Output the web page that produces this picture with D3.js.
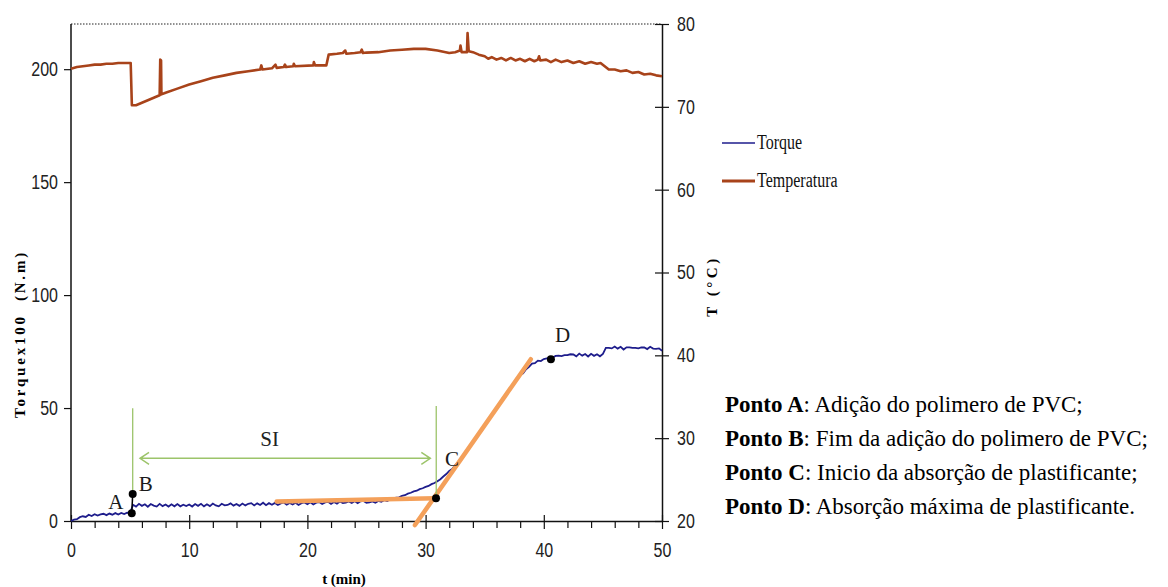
<!DOCTYPE html>
<html>
<head>
<meta charset="utf-8">
<script src="https://cdn.jsdelivr.net/npm/d3@7"></script>
<style>
  body { margin: 0; background: #fff; }
  .tick text { font-family: "Liberation Sans", Arial, sans-serif; font-size: 20px; fill: #222; }
</style>
</head>
<body>
<div id="chart"></div>
<script>
// torque (N.m x100), one reading every 0.25 min from t = 0 to 50
const torqueStep = 0.25;
const torqueValues = [
  0.0, 0.6, 0.8, 1.7, 2.1, 1.8, 2.8, 2.2, 3.0, 2.4, 2.9, 3.2, 2.6, 3.3, 2.8, 3.5, 2.9, 3.6, 3.1, 3.7,
  3.5, 7.2, 6.4, 7.6, 6.7, 7.4, 6.3, 7.5, 6.8, 6.4, 7.6, 6.6, 7.3, 6.4, 7.4, 6.5, 7.5, 6.5, 7.2, 6.6,
  7.3, 6.4, 7.5, 6.7, 7.6, 6.5, 7.4, 6.6, 7.7, 6.9, 6.5, 7.6, 6.9, 7.1, 7.8, 6.8, 7.5, 6.7, 7.7, 6.9,
  7.6, 7.9, 6.9, 7.8, 7.1, 8.1, 7.0, 7.9, 7.2, 8.0, 7.1, 7.8, 8.2, 7.2, 8.0, 7.3, 8.1, 7.1, 7.9, 8.2,
  7.4, 8.3, 7.3, 8.1, 8.4, 7.5, 8.2, 8.5, 7.6, 8.4, 7.7, 8.6, 7.9, 8.1, 8.7, 8.0, 8.8, 7.9, 8.7, 8.9,
  8.0, 8.2, 8.7, 8.1, 8.9, 8.5, 9.2, 8.8, 9.5, 9.7, 10.3, 10.5, 11.1, 11.4, 12.1, 12.5, 13.1, 13.4, 14.1, 14.5,
  15.1, 15.5, 16.3, 16.8, 17.6, 18.5, 19.7, 20.8, 22.2, 23.0, 24.7, 25.9, 27.7, 29.1, 31.2, 32.8, 35.2, 36.5, 38.7, 40.0,
  42.2, 44.0, 46.2, 48.0, 50.2, 51.9, 54.2, 55.6, 57.7, 59.2, 61.2, 62.7, 64.7, 65.4, 67.2, 68.2, 69.7, 69.9, 71.0, 70.8,
  71.7, 72.0, 72.0, 72.4, 73.1, 73.2, 73.0, 73.4, 73.4, 73.8, 73.7, 72.9, 74.1, 73.2, 73.9, 72.8, 74.0, 73.1, 73.8, 72.9,
  74.0, 76.6, 76.6, 76.4, 77.2, 76.3, 77.1, 75.9, 76.9, 76.9, 76.6, 76.6, 76.4, 76.8, 76.8, 76.1, 77.1, 76.3, 76.2, 76.4,
  75.4
];

// temperature (°C), [t (min), T]
const tempPoints = [
  [0, 74.6], [0.5, 74.8], [1, 74.9], [1.5, 75.0], [2, 75.1], [2.5, 75.1], [3, 75.2], [3.5, 75.2],
  [4, 75.3], [4.5, 75.3], [5.05, 75.3], [5.15, 70.2], [5.5, 70.2], [6, 70.5], [6.5, 70.8], [7, 71.1],
  [7.5, 71.4], [7.55, 75.7], [7.62, 75.6], [7.65, 71.5], [8, 71.7], [9, 72.2], [10, 72.7], [11, 73.1],
  [12, 73.5], [13, 73.8], [14, 74.1], [15, 74.3], [16, 74.5], [16.1, 75.0], [16.2, 74.5], [17, 74.65],
  [17.3, 75.1], [17.4, 74.7], [18, 74.8], [18.1, 75.1], [18.2, 74.8], [18.8, 74.9], [18.85, 75.2], [18.95, 74.9],
  [20.5, 75.0], [20.55, 75.4], [20.65, 75.0], [21.6, 75.0], [21.8, 76.3], [22.5, 76.4], [23, 76.5], [23.2, 76.8],
  [23.3, 76.4], [24, 76.5], [24.5, 76.6], [24.6, 76.9], [24.7, 76.5], [25, 76.55], [26, 76.6], [27, 76.8],
  [28, 76.9], [29, 77.0], [30, 77.0], [31, 76.8], [32, 76.5], [32.5, 76.6], [32.9, 76.8], [32.95, 77.4],
  [33.05, 76.6], [33.5, 76.6], [33.55, 78.9], [33.65, 76.7], [34, 76.6], [34.5, 76.3], [35, 76.1], [35.3, 75.8],
  [35.6, 76.0], [36, 75.7], [36.4, 75.9], [36.8, 75.6], [37.2, 75.9], [37.6, 75.6], [38, 75.8], [38.4, 75.5],
  [38.8, 75.8], [39.2, 75.5], [39.5, 75.7], [39.6, 76.1], [39.7, 75.6], [40.2, 75.7], [40.6, 75.4], [41, 75.7],
  [41.5, 75.4], [42, 75.6], [42.5, 75.3], [43, 75.5], [43.5, 75.2], [44, 75.4], [44.5, 75.2], [44.8, 75.3],
  [45.5, 74.5], [46, 74.5], [46.5, 74.3], [47, 74.4], [47.5, 74.1], [48, 74.2], [48.5, 73.9], [49, 74.0],
  [49.5, 73.8], [50, 73.7]
];

// annotation points [t, torque]
const points = [
  {name: "A", t: 5.14, v: 3.4, dx: -16, dy: -4},
  {name: "B", t: 5.22, v: 11.9, dx: 6, dy: -3},
  {name: "C", t: 30.88, v: 10.1, dx: 9, dy: -32},
  {name: "D", t: 40.6, v: 71.6, dx: 4, dy: -17}
];
const siMarks = [{t: 5.22, from: 11.9, to: 49.9}, {t: 30.9, from: 10.1, to: 50.9}];
const siArrow = {t0: 5.84, t1: 30.4, v: 27.75};
const tangents = [
  [[17.4, 8.6], [30.8, 10.1]],
  [[29.1, -1.8], [38.9, 71.6]]
];

const xTicks = [0, 10, 20, 30, 40, 50];
const xMinor = [2, 4, 6, 8, 12, 14, 16, 18, 22, 24, 26, 28, 32, 34, 36, 38, 42, 44, 46, 48];
const leftTicks = [0, 50, 100, 150, 200];
const rightTicks = [20, 30, 40, 50, 60, 70, 80];

const notes = [
  ["Ponto A", ": Adição do polimero de PVC;"],
  ["Ponto B", ": Fim da adição do polimero de PVC;"],
  ["Ponto C", ": Inicio da absorção de plastificante;"],
  ["Ponto D", ": Absorção máxima de plastificante."]
];

const colors = {torque: "#1e1d8c", temp: "#a8431a", green: "#9cc46a", orange: "#f4a05a"};
const serif = '"Liberation Serif", "Times New Roman", serif';
const squeeze = 0.8; // tick labels in the original are a narrow sans

const W = 1168, H = 587;
const margin = {top: 24, right: 506, bottom: 66, left: 71};
const width = W - margin.left - margin.right;
const height = H - margin.top - margin.bottom;

const svg = d3.select("#chart").append("svg")
  .attr("width", W).attr("height", H);

const g = svg.append("g")
  .attr("transform", "translate(" + margin.left + "," + margin.top + ")");

const x = d3.scaleLinear().domain([0, 50]).range([0, width]);
const yL = d3.scaleLinear().domain([0, 220]).range([height, 0]);
const yR = d3.scaleLinear().domain([20, 80]).range([height, 0]);

// dotted top border
g.append("line")
  .attr("x1", 0).attr("x2", width).attr("y1", 0).attr("y2", 0)
  .attr("stroke", "#222").attr("stroke-width", 1).attr("stroke-dasharray", "1.5,1.5");

// axes
const xAxis = g.append("g")
  .attr("transform", "translate(0," + height + ")")
  .call(d3.axisBottom(x).tickValues(xTicks).tickSize(8).tickPadding(14).tickSizeOuter(0));
xAxis.selectAll(".tick line").attr("y1", -6);
xAxis.selectAll(".tick text").attr("dy", "0.71em");
g.append("g")
  .attr("transform", "translate(0," + height + ")")
  .call(d3.axisBottom(x).tickValues(xMinor).tickSize(7).tickFormat("").tickSizeOuter(0))
  .select(".domain").remove();

const leftAxis = g.append("g")
  .call(d3.axisLeft(yL).tickValues(leftTicks).tickSize(7).tickPadding(6).tickSizeOuter(0));
leftAxis.select(".domain").attr("d", "M0," + height + "V0");

const rightAxis = g.append("g")
  .attr("transform", "translate(" + width + ",0)")
  .call(d3.axisRight(yR).tickValues(rightTicks).tickSize(7).tickPadding(8).tickSizeOuter(0));
rightAxis.selectAll(".tick line").attr("x1", -7);

// narrow the tick labels horizontally
g.selectAll(".tick text").each(function() {
  const t = d3.select(this);
  const tx = +t.attr("x") || 0;
  t.attr("x", tx / squeeze).attr("transform", "scale(" + squeeze + ",1)");
});

g.selectAll(".domain").attr("stroke", "#111").attr("stroke-width", 1.5);
g.selectAll(".tick line").attr("stroke", "#111").attr("stroke-width", 1.2);

// temperature line
const tempLine = d3.line().x(d => x(d[0])).y(d => yR(d[1]));
g.append("path")
  .datum(tempPoints)
  .attr("fill", "none")
  .attr("stroke", colors.temp)
  .attr("stroke-width", 2.6)
  .attr("stroke-linejoin", "round")
  .attr("d", tempLine);

// torque line
const torqueLine = d3.line().x((d, i) => x(i * torqueStep)).y(d => yL(d));
g.append("path")
  .datum(torqueValues)
  .attr("fill", "none")
  .attr("stroke", colors.torque)
  .attr("stroke-width", 1.8)
  .attr("d", torqueLine);

// tangents
g.selectAll(".tangent")
  .data(tangents)
  .enter().append("line")
  .attr("class", "tangent")
  .attr("x1", d => x(d[0][0])).attr("y1", d => yL(d[0][1]))
  .attr("x2", d => x(d[1][0])).attr("y2", d => yL(d[1][1]))
  .attr("stroke", colors.orange)
  .attr("stroke-width", 4.5)
  .attr("stroke-linecap", "round");

// SI markers
g.selectAll(".si")
  .data(siMarks)
  .enter().append("line")
  .attr("x1", d => x(d.t)).attr("x2", d => x(d.t))
  .attr("y1", d => yL(d.from)).attr("y2", d => yL(d.to))
  .attr("stroke", colors.green).attr("stroke-width", 1.3);

const ay = yL(siArrow.v), ax0 = x(siArrow.t0), ax1 = x(siArrow.t1);
g.append("path")
  .attr("d", "M" + ax0 + "," + ay + "H" + ax1
    + "M" + (ax0 + 9) + "," + (ay - 6) + "L" + ax0 + "," + ay + "L" + (ax0 + 9) + "," + (ay + 6)
    + "M" + (ax1 - 9) + "," + (ay - 6) + "L" + ax1 + "," + ay + "L" + (ax1 - 9) + "," + (ay + 6))
  .attr("fill", "none").attr("stroke", colors.green).attr("stroke-width", 1.5);

g.append("text")
  .attr("x", x(16.8)).attr("y", ay - 12)
  .attr("text-anchor", "middle")
  .attr("font-family", serif)
  .attr("font-size", 21)
  .attr("fill", "#222")
  .text("SI");

// A-B segment
g.append("line")
  .attr("x1", x(points[0].t)).attr("y1", yL(points[0].v))
  .attr("x2", x(points[1].t)).attr("y2", yL(points[1].v))
  .attr("stroke", "#000").attr("stroke-width", 1.5);

const pt = g.selectAll(".pt")
  .data(points)
  .enter().append("g")
  .attr("transform", d => "translate(" + x(d.t) + "," + yL(d.v) + ")");
pt.append("circle").attr("r", 4).attr("fill", "#000");
pt.append("text")
  .attr("x", d => d.dx).attr("y", d => d.dy)
  .attr("text-anchor", d => d.name === "A" ? "middle" : "start")
  .attr("font-family", serif)
  .attr("font-size", 21)
  .attr("fill", "#1a1a1a")
  .text(d => d.name);

// axis titles
svg.append("text")
  .attr("transform", "translate(25,334) rotate(-90)")
  .attr("text-anchor", "middle")
  .attr("font-family", serif)
  .attr("font-size", 15).attr("font-weight", "bold")
  .attr("letter-spacing", 2.8)
  .style("white-space", "pre")
  .text("Torquex100  (N.m)");

svg.append("text")
  .attr("transform", "translate(717,286) rotate(-90)")
  .attr("text-anchor", "middle")
  .attr("font-family", serif)
  .attr("font-size", 15).attr("font-weight", "bold")
  .attr("letter-spacing", 3.5)
  .text("T (°C)");

svg.append("text")
  .attr("x", 344).attr("y", 584)
  .attr("text-anchor", "middle")
  .attr("font-family", serif)
  .attr("font-size", 15).attr("font-weight", "bold")
  .text("t (min)");

// legend
const legend = svg.append("g").attr("transform", "translate(722,143)");
const legendItems = [
  {label: "Torque", color: colors.torque, w: 1.5},
  {label: "Temperatura", color: colors.temp, w: 3}
];
const li = legend.selectAll(".li")
  .data(legendItems)
  .enter().append("g")
  .attr("transform", (d, i) => "translate(0," + i * 38 + ")");
li.append("line").attr("x1", 0).attr("x2", 33)
  .attr("stroke", d => d.color).attr("stroke-width", d => d.w);
li.append("text")
  .attr("transform", "translate(35,6) scale(0.8,1)")
  .attr("font-family", serif)
  .attr("font-size", 20)
  .attr("fill", "#111")
  .text(d => d.label);

// point notes
const nt = svg.append("g")
  .selectAll("text")
  .data(notes)
  .enter().append("text")
  .attr("x", 725).attr("y", (d, i) => 412 + i * 34)
  .attr("font-family", serif)
  .attr("font-size", 23)
  .attr("fill", "#000");
nt.append("tspan").attr("font-weight", "bold").text(d => d[0]);
nt.append("tspan").text(d => d[1]);
</script>
</body>
</html>
